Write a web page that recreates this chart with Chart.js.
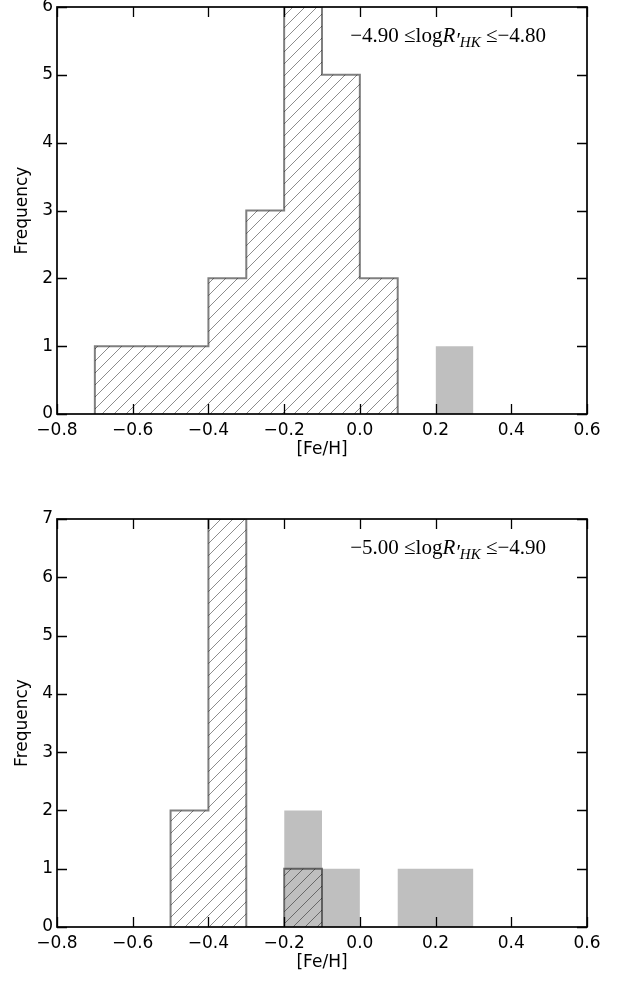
<!DOCTYPE html>
<html>
<head>
<meta charset="utf-8">
<script src="https://cdn.jsdelivr.net/npm/chart.js@4.4.1/dist/chart.umd.min.js"></script>
<style>
  html, body { margin: 0; padding: 0; background: #fff; }
  #wrap { position: relative; width: 627px; height: 981px; }
  .panel { position: absolute; left: 0; width: 627px; }
</style>
</head>
<body>
<div id="wrap">
  <div class="panel" style="top:0;height:470px"><canvas id="panelTop"></canvas></div>
  <div class="panel" style="top:500px;height:481px"><canvas id="panelBottom"></canvas></div>
</div>
<script>
// Histogram bins ([Fe/H] bin edges) and counts per bin
const topHatchEdges = [-0.7, -0.6, -0.5, -0.4, -0.3, -0.2, -0.1, 0.0, 0.1];
const topHatchCounts = [1, 1, 1, 2, 3, 6, 5, 2];
const topGrayEdges = [0.2, 0.3];
const topGrayCounts = [1];

const bottomHatchEdges = [-0.5, -0.4, -0.3, -0.2, -0.1];
const bottomHatchCounts = [2, 7, 0, 1];
const bottomGrayEdges = [-0.2, -0.1, 0.0, 0.1, 0.2, 0.3];
const bottomGrayCounts = [2, 1, 0, 1, 1];

// Axis ticks
const xTicks = [-0.8, -0.6, -0.4, -0.2, 0.0, 0.2, 0.4, 0.6];
const topYMax = 6;
const bottomYMax = 7;

// Activity range printed in each panel
const topRange = ['\u22124.90', '\u22124.80'];
const bottomRange = ['\u22125.00', '\u22124.90'];

const TICK_FONT = { family: 'DejaVu Sans', size: 17, lineHeight: 1.2 };
const TICK_LEN = 10;

// edges + counts -> points of a stepped outline (step taken at each left edge)
function stepPoints(edges, counts) {
    const pts = [{ x: edges[0], y: 0 }];
    counts.forEach((c, i) => pts.push({ x: edges[i], y: c }));
    pts.push({ x: edges[edges.length - 1], y: 0 });
    return pts;
}

function hatchPattern() {
    const s = 12;
    const c = document.createElement('canvas');
    c.width = s; c.height = s;
    const g = c.getContext('2d');
    g.strokeStyle = 'rgba(0,0,0,0.45)';
    g.lineWidth = 1;
    g.beginPath();
    g.moveTo(0, s); g.lineTo(s, 0);
    g.moveTo(-s / 2, s / 2); g.lineTo(s / 2, -s / 2);
    g.moveTo(s / 2, s * 1.5); g.lineTo(s * 1.5, s / 2);
    g.stroke();
    return g.createPattern(c, 'repeat');
}

const minus = v => v.replace('-', '\u2212');

// black frame with inward ticks on all four sides
const frameTicks = {
    id: 'frameTicks',
    afterDatasetsDraw(chart) {
        const { ctx, chartArea: a, scales: { x, y } } = chart;
        ctx.save();
        ctx.strokeStyle = '#000';
        ctx.lineWidth = 1.3;
        ctx.beginPath();
        x.ticks.forEach(t => {
            const px = Math.round(x.getPixelForValue(t.value)) + 0.5;
            ctx.moveTo(px, a.bottom); ctx.lineTo(px, a.bottom - TICK_LEN);
            ctx.moveTo(px, a.top); ctx.lineTo(px, a.top + TICK_LEN);
        });
        y.ticks.forEach(t => {
            const py = Math.round(y.getPixelForValue(t.value)) + 0.5;
            ctx.moveTo(a.left, py); ctx.lineTo(a.left + TICK_LEN, py);
            ctx.moveTo(a.right, py); ctx.lineTo(a.right - TICK_LEN, py);
        });
        ctx.stroke();
        ctx.lineWidth = 1.7;
        ctx.strokeRect(a.left, a.top, a.right - a.left, a.bottom - a.top);
        ctx.restore();
    }
};

// "lo <= log R'_HK <= hi" written in serif type
const rangeLabel = {
    id: 'rangeLabel',
    afterDraw(chart, args, opts) {
        const { ctx, chartArea: a } = chart;
        const size = 21;
        const rm = size + 'px "Liberation Serif"';
        const it = 'italic ' + size + 'px "Liberation Serif"';
        const sub = 'italic ' + Math.round(size * 0.7) + 'px "Liberation Serif"';
        const parts = [
            { t: opts.lo + ' ', f: rm, dy: 0 },
            { t: '\u2264', f: rm, dy: 0 },
            { t: 'log', f: rm, dy: 0 },
            { t: 'R', f: it, dy: 0 },
            { t: '\u2032', f: it, dy: 5 },
            { t: 'HK', f: sub, dy: 5 },
            { t: ' \u2264', f: rm, dy: 0 },
            { t: opts.hi, f: rm, dy: 0 }
        ];
        ctx.save();
        let total = 0;
        parts.forEach(p => { ctx.font = p.f; p.w = ctx.measureText(p.t).width; total += p.w; });
        let x = a.left + (a.right - a.left) * 0.738 - total / 2;
        const base = a.top + (a.bottom - a.top) * 0.069 + 7;
        ctx.fillStyle = '#000';
        ctx.textBaseline = 'alphabetic';
        parts.forEach(p => {
            ctx.font = p.f;
            ctx.fillText(p.t, x, base + p.dy);
            x += p.w;
        });
        ctx.restore();
    }
};

function makePanel(id, hatchEdges, hatchCounts, grayEdges, grayCounts, yMax, range, plotTop, axisHeight, titleGap) {
    const ctx = document.getElementById(id).getContext('2d');
    return new Chart(ctx, {
        type: 'line',
        data: {
            datasets: [{
                label: 'hatched',
                data: stepPoints(hatchEdges, hatchCounts),
                stepped: 'before',
                borderColor: 'rgba(0,0,0,0.5)',
                borderWidth: 2,
                backgroundColor: hatchPattern(),
                fill: 'origin',
                pointRadius: 0
            }, {
                label: 'gray',
                data: stepPoints(grayEdges, grayCounts),
                stepped: 'before',
                borderColor: 'rgba(0,0,0,0)',
                borderWidth: 1,
                backgroundColor: 'rgba(0,0,0,0.25)',
                fill: 'origin',
                pointRadius: 0
            }]
        },
        options: {
            responsive: true,
            maintainAspectRatio: false,
            animation: false,
            events: [],
            layout: { padding: { left: 0, right: 40, top: plotTop, bottom: 0 } },
            scales: {
                x: {
                    type: 'linear',
                    min: xTicks[0],
                    max: xTicks[xTicks.length - 1],
                    afterBuildTicks(scale) { scale.ticks = xTicks.map(v => ({ value: v })); },
                    ticks: {
                        font: TICK_FONT, color: '#000', padding: 6, maxRotation: 0,
                        callback: v => minus(v.toFixed(1))
                    },
                    grid: { display: false, drawTicks: false },
                    border: { display: false },
                    title: { display: true, text: '[Fe/H]', font: TICK_FONT, color: '#000', padding: { top: 0, bottom: titleGap } },
                    afterFit(scale) {
                        scale.height = axisHeight;
                        scale.paddingLeft = 0; scale.paddingRight = 0;
                    }
                },
                y: {
                    type: 'linear',
                    min: 0,
                    max: yMax,
                    ticks: { stepSize: 1, font: TICK_FONT, color: '#000', padding: 4, callback: v => String(v) },
                    grid: { display: false, drawTicks: false },
                    border: { display: false },
                    title: { display: true, text: 'Frequency', font: TICK_FONT, color: '#000', padding: { top: 12, bottom: 0 } },
                    afterFit(scale) {
                        scale.width = 57;
                        scale.paddingTop = 0; scale.paddingBottom = 0;
                    }
                }
            },
            plugins: {
                legend: { display: false },
                tooltip: { enabled: false },
                rangeLabel: { lo: range[0], hi: range[1] }
            }
        },
        plugins: [frameTicks, rangeLabel]
    });
}

makePanel('panelTop', topHatchEdges, topHatchCounts, topGrayEdges, topGrayCounts, topYMax, topRange, 7, 56, 10);
makePanel('panelBottom', bottomHatchEdges, bottomHatchCounts, bottomGrayEdges, bottomGrayCounts, bottomYMax, bottomRange, 19, 54, 8);
</script>
</body>
</html>
